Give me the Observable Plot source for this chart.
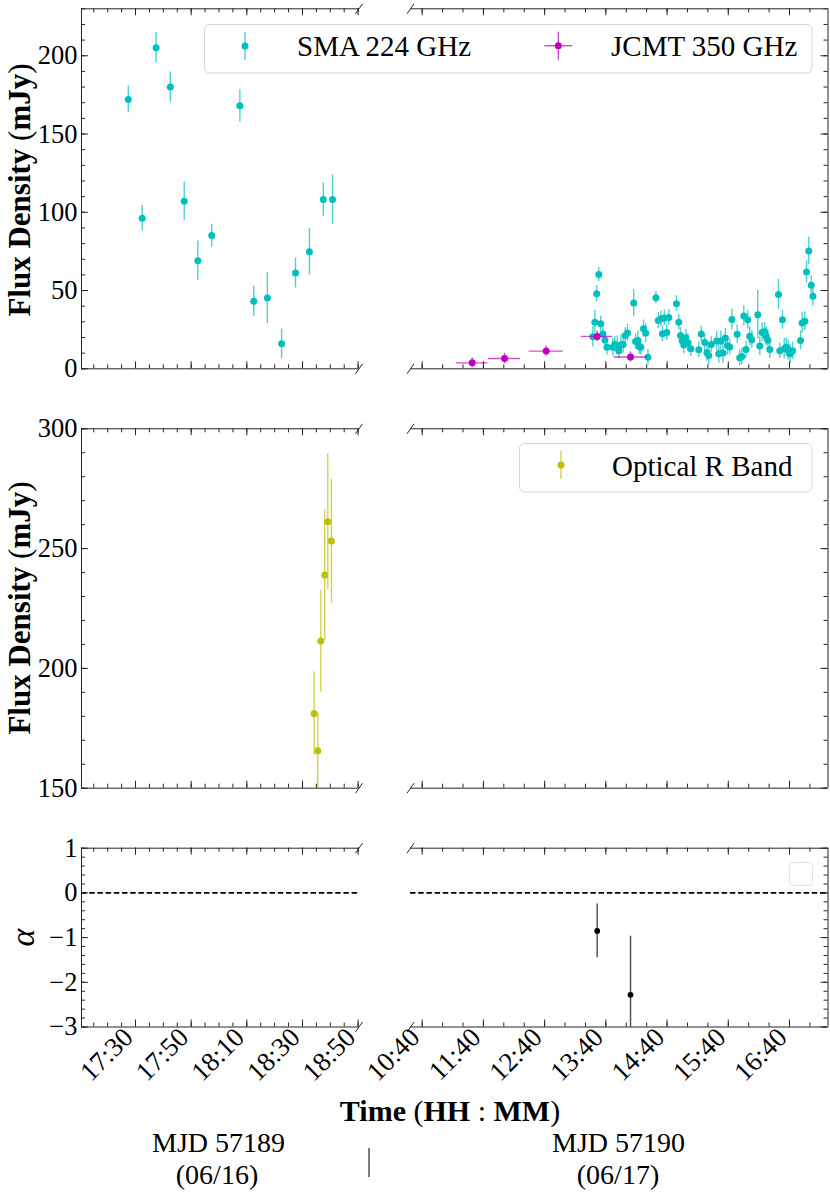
<!DOCTYPE html>
<html><head><meta charset="utf-8">
<script src="https://cdn.jsdelivr.net/npm/d3@7"></script>
<script src="https://cdn.jsdelivr.net/npm/@observablehq/plot@0.6"></script>
<style>
html,body{margin:0;padding:0;background:#fff;}
#fig{position:relative;width:830px;height:1195px;overflow:hidden;font-family:"Liberation Serif",serif;}
</style></head><body><div id="fig"></div>
<script>
// ---------- data ----------
const DAY1 = "2015-06-16", DAY2 = "2015-06-17";

const smaDay1Time = ["17:27:24","17:32:24","17:37:24","17:42:30","17:47:30","17:52:24","17:57:24","18:07:30","18:12:30","18:17:24","18:22:30","18:27:30","18:32:30","18:37:30","18:40:48"];
const smaDay1Flux = [172.1, 96.2, 205.1, 180.0, 107.0, 69.1, 85.1, 168.0, 43.1, 45.2, 16.0, 61.2, 74.8, 108.1, 108.1];
const smaDay1Err  = [8.5, 8.2, 9.7, 9.6, 12.3, 12.6, 7.3, 10.3, 9.7, 16.4, 9.4, 9.6, 14.8, 10.7, 15.9];

const optTime = ["18:34:12","18:35:30","18:36:36","18:38:00","18:39:06","18:40:24"];
const optFlux = [181.2, 165.6, 211.4, 239.0, 261.2, 253.2];
const optErr  = [17.4, 15.7, 21.2, 27.2, 28.4, 25.9];

const smaDay2Time = [
 "13:27:12","13:29:12","13:31:00","13:33:06","13:35:00","13:37:06","13:39:06","13:41:06","13:46:48","13:48:48",
 "13:51:06","13:52:42","13:54:48","13:57:00","13:59:00","14:01:12","14:07:18","14:09:06","14:11:18","14:12:42",
 "14:14:18","14:16:54","14:19:06","14:21:18","14:29:06","14:31:24","14:34:00","14:35:30","14:37:18","14:39:42",
 "14:41:42","14:49:12","14:51:30","14:53:12","14:54:48","14:56:24","14:58:30","15:00:18","15:03:18","15:11:06",
 "15:13:30","15:16:54","15:19:06","15:20:54","15:23:18","15:28:42","15:30:42","15:32:42","15:34:48","15:37:06",
 "15:39:12","15:41:24","15:43:30","15:48:42","15:51:12","15:53:18","15:55:12","15:57:24","15:59:06","16:01:00",
 "16:03:06","16:08:54","16:10:54","16:13:12","16:15:30","16:17:12","16:18:54","16:20:42","16:29:12","16:30:30",
 "16:33:06","16:34:48","16:36:48","16:38:42","16:40:42","16:43:06","16:50:48","16:52:24","16:55:00","16:56:42",
 "16:58:54","17:01:18","17:03:00"];
const smaDay2Flux = [
 20.5, 29.8, 48.0, 60.2, 28.8, 22.2, 18.4, 13.8, 13.8, 15.7,
 14.9, 11.5, 15.4, 15.5, 21.3, 22.9, 42.1, 17.4, 18.1, 14.2,
 13.8, 25.6, 22.8, 7.4, 45.4, 30.9, 32.0, 22.4, 32.5, 23.2,
 32.8, 41.6, 29.8, 21.3, 17.9, 15.2, 19.8, 16.7, 12.8, 12.2,
 22.2, 16.8, 10.3, 8.5, 15.5, 17.7, 9.6, 17.7, 10.1, 19.7,
 14.7, 14.0, 31.5, 22.0, 7.0, 7.9, 33.8, 12.3, 31.3, 20.8,
 18.6, 34.6, 14.5, 23.2, 23.6, 20.8, 18.3, 12.4, 47.5, 11.5,
 31.3, 12.8, 13.8, 12.2, 9.6, 11.5, 18.1, 29.3, 30.4, 61.8,
 75.2, 53.4, 46.3];
const smaDay2Err = [
 6.5, 7.5, 5, 4.5, 5, 5, 5, 5, 5.5, 5,
 6, 5, 6, 5.5, 5, 5.5, 8.5, 5, 6, 5,
 5, 5.5, 6, 5, 4, 5, 5, 5, 5, 5,
 5, 5, 5, 5, 5, 5.5, 5.5, 5.5, 5, 5,
 5, 5.5, 5.5, 6, 5, 6.5, 6, 6.5, 6.5, 6,
 6, 5, 6.5, 6, 5, 5.5, 6.5, 5.5, 6, 6,
 5.5, 15.5, 6, 6, 6, 6, 6.5, 6, 9.5, 5,
 6, 6.5, 6, 6.5, 6, 5.5, 6, 6.5, 6, 7,
 8.8, 6, 6.2];

const jcmtTime = ["11:29:00","12:00:42","12:41:30","13:31:30","14:04:12"];
const jcmtHalfWidthMin = [15.4, 15.7, 16.7, 15.5, 16.2];
const jcmtFlux = [3.8, 6.6, 11.3, 20.7, 7.5];
const jcmtErr  = [3.2, 3.4, 3.2, 3.4, 3.2];

const alphaTime = ["13:31:30","14:04:12"];
const alphaValue = [-0.85, -2.28];
const alphaErr = [0.60, 1.31];

const day1TickLabels = ["17:30","17:50","18:10","18:30","18:50"];
const day2TickLabels = ["10:40","11:40","12:40","13:40","14:40","15:40","16:40"];
const fluxTopTicks = [0, 50, 100, 150, 200];
const fluxMidTicks = [150, 200, 250, 300];
const alphaTicks = [1, 0, -1, -2, -3];

// ---------- helpers ----------
const at = (day, hms) => new Date(`${day}T${hms.length === 5 ? hms + ":00" : hms}Z`);
const rows = (day, t, v, e) => t.map((s, i) => ({t: at(day, s), v: v[i], e: e[i]}));

const sma1 = rows(DAY1, smaDay1Time, smaDay1Flux, smaDay1Err);
const opt = rows(DAY1, optTime, optFlux, optErr);
const sma2 = rows(DAY2, smaDay2Time, smaDay2Flux, smaDay2Err);
const jcmt = rows(DAY2, jcmtTime, jcmtFlux, jcmtErr).map((d, i) => ({...d, xe: jcmtHalfWidthMin[i]}));
const alpha = rows(DAY2, alphaTime, alphaValue, alphaErr);

const CYAN = "#00bfbf", MAG = "#bf00bf", YEL = "#bfbf00", BLK = "#000000";
const spine = "#262626";
const FONT = "'Liberation Serif', serif";
const ERR_OP = 0.7;

const xdLeft = [at(DAY1, "17:10:35"), at(DAY1, "18:50:19")];
const xdRight = [at(DAY2, "10:28:32"), at(DAY2, "17:17:44")];
const leftMaj = day1TickLabels.map(s => at(DAY1, s));
const rightMaj = day2TickLabels.map(s => at(DAY2, s));
const leftMin = d3.utcMinute.every(5).range(xdLeft[0], xdLeft[1]);
const rightMin = d3.utcMinute.every(20).range(xdRight[0], xdRight[1]);
const fmtMinus = v => (v < 0 ? "\u2212" + Math.abs(v) : String(v));

const errV = (data, color) => Plot.ruleX(data, {x: "t", y1: d => d.v - d.e, y2: d => d.v + d.e, stroke: color, strokeOpacity: ERR_OP, strokeWidth: 1.4, clip: true});
const dots = (data, color, r = 3.5) => Plot.dot(data, {x: "t", y: "v", r, fill: color, clip: true});

const fig = document.getElementById("fig");

function panel(o) {
  const [fx0, fy0, fx1, fy1] = o.frame;
  const [sx, sy, W, H] = o.svg;
  const iw = fx1 - fx0, ih = fy1 - fy0;
  const xd = o.xd, yd = o.yd;
  const inX = d => +d >= +xd[0] && +d <= +xd[1];
  const inY = d => d >= yd[0] - 1e-9 && d <= yd[1] + 1e-9;
  const xMaj = o.xMaj.filter(inX), xMin = o.xMin.filter(inX);
  const yMaj = o.yMaj.filter(inY), yMin = o.yMin.filter(inY);
  const msPx = (xd[1] - xd[0]) / iw, uPx = (yd[1] - yd[0]) / ih;
  const brkX = o.side === "left" ? xd[1] : xd[0];
  const brk = [yd[0], yd[1]].map(y => ({x: brkX, y}));
  const sideTicks = (vals, len) => o.side === "left"
    ? Plot.tickY(vals, {y: d => d, insetRight: iw - len, stroke: spine})
    : Plot.tickY(vals, {y: d => d, insetLeft: iw - len, stroke: spine});
  const marks = [
    ...o.marks,
    Plot.ruleY([yd[0], yd[1]], {stroke: spine, strokeWidth: 1}),
    Plot.ruleX([o.side === "left" ? xd[0] : xd[1]], {stroke: spine, strokeWidth: 1}),
    Plot.tickX(xMaj, {x: d => d, insetTop: ih - 7, stroke: spine}),
    Plot.tickX(xMaj, {x: d => d, insetBottom: ih - 7, stroke: spine}),
    Plot.tickX(xMin, {x: d => d, insetTop: ih - 4, stroke: spine}),
    Plot.tickX(xMin, {x: d => d, insetBottom: ih - 4, stroke: spine}),
    sideTicks(yMaj, 7), sideTicks(yMin, 4),
    Plot.link(brk, {
      x1: d => new Date(+d.x - 3.5 * msPx), x2: d => new Date(+d.x + 3.5 * msPx),
      y1: d => d.y - 5 * uPx, y2: d => d.y + 5 * uPx, stroke: spine, strokeWidth: 1
    })
  ];
  if (o.yLabels) marks.push(Plot.text(o.yLabels, {y: d => d, text: fmtMinus, frameAnchor: "left", textAnchor: "end", dx: -4, fontSize: 26.5, fill: "#000"}));
  if (o.xLabels) marks.push(Plot.text(o.xLabels, {x: d => at(o.day, d), text: d => d, frameAnchor: "bottom", textAnchor: "end", rotate: -45, dx: -1, dy: 12, fontSize: 27, fill: "#000"}));
  const svg = Plot.plot({
    width: W, height: H,
    marginLeft: fx0 - sx, marginRight: sx + W - fx1,
    marginTop: fy0 - sy, marginBottom: sy + H - fy1,
    x: {type: "utc", domain: xd, axis: null},
    y: {domain: yd, axis: null},
    style: {background: "transparent", overflow: "visible", fontFamily: FONT, fontSize: "26px", color: "#000", maxWidth: "none"},
    marks
  });
  svg.style.position = "absolute";
  svg.style.left = sx + "px";
  svg.style.top = sy + "px";
  fig.appendChild(svg);
}

const LX0 = 81, LX1 = 358.5, RX0 = 410, RX1 = 827.5;
const rowsY = [[8.3, 368.3, 0, 380], [428.3, 787.7, 420, 380], [847.7, 1026.5, 840, 260]];
const minorTop = d3.range(0, 231, 10);
const minorMid = d3.range(150, 301, 10);
const minorAlpha = d3.range(-15, 6).map(i => i / 5);

// top row
panel({frame: [LX0, rowsY[0][0], LX1, rowsY[0][1]], svg: [0, rowsY[0][2], 385, rowsY[0][3]], side: "left",
  xd: xdLeft, yd: [0, 230], xMaj: leftMaj, xMin: leftMin, yMaj: fluxTopTicks, yMin: minorTop, yLabels: fluxTopTicks,
  marks: [errV(sma1, CYAN), dots(sma1, CYAN)]});
panel({frame: [RX0, rowsY[0][0], RX1, rowsY[0][1]], svg: [385, rowsY[0][2], 445, rowsY[0][3]], side: "right",
  xd: xdRight, yd: [0, 230], xMaj: rightMaj, xMin: rightMin, yMaj: fluxTopTicks, yMin: minorTop,
  marks: [errV(sma2, CYAN), dots(sma2, CYAN),
    Plot.ruleY(jcmt, {y: "v", x1: d => new Date(+d.t - d.xe * 60000), x2: d => new Date(+d.t + d.xe * 60000), stroke: MAG, strokeOpacity: ERR_OP, strokeWidth: 1.4, clip: true}),
    errV(jcmt, MAG), dots(jcmt, MAG)]});
// middle row
panel({frame: [LX0, rowsY[1][0], LX1, rowsY[1][1]], svg: [0, rowsY[1][2], 385, rowsY[1][3]], side: "left",
  xd: xdLeft, yd: [150, 300], xMaj: leftMaj, xMin: leftMin, yMaj: fluxMidTicks, yMin: minorMid, yLabels: fluxMidTicks,
  marks: [errV(opt, YEL), dots(opt, YEL)]});
panel({frame: [RX0, rowsY[1][0], RX1, rowsY[1][1]], svg: [385, rowsY[1][2], 445, rowsY[1][3]], side: "right",
  xd: xdRight, yd: [150, 300], xMaj: rightMaj, xMin: rightMin, yMaj: fluxMidTicks, yMin: minorMid, marks: []});
// bottom row
const zeroLine = Plot.ruleY([0], {stroke: BLK, strokeWidth: 1.6, strokeDasharray: "5.5,2.7"});
panel({frame: [LX0, rowsY[2][0], LX1, rowsY[2][1]], svg: [0, rowsY[2][2], 385, rowsY[2][3]], side: "left",
  xd: xdLeft, yd: [-3, 1], xMaj: leftMaj, xMin: leftMin, yMaj: alphaTicks, yMin: minorAlpha, yLabels: alphaTicks,
  xLabels: day1TickLabels, day: DAY1, marks: [zeroLine]});
panel({frame: [RX0, rowsY[2][0], RX1, rowsY[2][1]], svg: [385, rowsY[2][2], 445, rowsY[2][3]], side: "right",
  xd: xdRight, yd: [-3, 1], xMaj: rightMaj, xMin: rightMin, yMaj: alphaTicks, yMin: minorAlpha,
  xLabels: day2TickLabels, day: DAY2, marks: [zeroLine, errV(alpha, BLK), dots(alpha, BLK, 2.9)]});

// ---------- annotations, legends ----------
const ov = document.createElementNS("http://www.w3.org/2000/svg", "svg");
ov.setAttribute("width", 830); ov.setAttribute("height", 1195);
ov.style.cssText = "position:absolute;left:0;top:0;overflow:visible;pointer-events:none";
ov.setAttribute("font-family", FONT);
ov.innerHTML = `
<text transform="translate(30,190) rotate(-90)" text-anchor="middle" font-size="31" font-weight="bold">Flux Density <tspan font-weight="normal">(</tspan>mJy<tspan font-weight="normal">)</tspan></text>
<text transform="translate(30,608) rotate(-90)" text-anchor="middle" font-size="31" font-weight="bold">Flux Density <tspan font-weight="normal">(</tspan>mJy<tspan font-weight="normal">)</tspan></text>
<text transform="translate(34,937.5) rotate(-90)" text-anchor="middle" font-size="34" font-style="italic">α</text>
<text x="450" y="1121" text-anchor="middle" font-size="30"><tspan font-weight="bold">Time</tspan> (<tspan font-weight="bold">HH</tspan> : <tspan font-weight="bold">MM</tspan>)</text>
<text x="218.5" y="1152" text-anchor="middle" font-size="28">MJD 57189</text>
<text x="217" y="1184" text-anchor="middle" font-size="28">(06/16)</text>
<text x="618.5" y="1152" text-anchor="middle" font-size="28">MJD 57190</text>
<text x="618" y="1184" text-anchor="middle" font-size="28">(06/17)</text>
<line x1="369" x2="369" y1="1148" y2="1177" stroke="#222" stroke-width="1.2"/>
<rect x="204.5" y="24.5" width="607.5" height="48.5" rx="5" fill="#fff" fill-opacity="0.8" stroke="#d6d6d6"/>
<line x1="245" x2="245" y1="32" y2="60" stroke="${CYAN}" stroke-opacity="${ERR_OP}" stroke-width="1.4"/>
<circle cx="245" cy="46" r="3.5" fill="${CYAN}"/>
<text x="297" y="56" font-size="29">SMA 224 GHz</text>
<line x1="558.3" x2="558.3" y1="31.7" y2="59.7" stroke="${MAG}" stroke-opacity="${ERR_OP}" stroke-width="1.4"/>
<line x1="544.3" x2="572.3" y1="45.7" y2="45.7" stroke="${MAG}" stroke-opacity="${ERR_OP}" stroke-width="1.4"/>
<circle cx="558.3" cy="45.7" r="3.5" fill="${MAG}"/>
<text x="611" y="56" font-size="29">JCMT 350 GHz</text>
<rect x="519.5" y="443.5" width="292.5" height="48.5" rx="5" fill="#fff" fill-opacity="0.8" stroke="#d6d6d6"/>
<line x1="561" x2="561" y1="451" y2="479" stroke="${YEL}" stroke-opacity="${ERR_OP}" stroke-width="1.4"/>
<circle cx="561" cy="465" r="3.5" fill="${YEL}"/>
<text x="612" y="476" font-size="29">Optical R Band</text>
<rect x="789.5" y="862.5" width="23" height="23" rx="4" fill="#fff" fill-opacity="0.8" stroke="#e0e0e0"/>
`;
fig.appendChild(ov);
</script></body></html>
